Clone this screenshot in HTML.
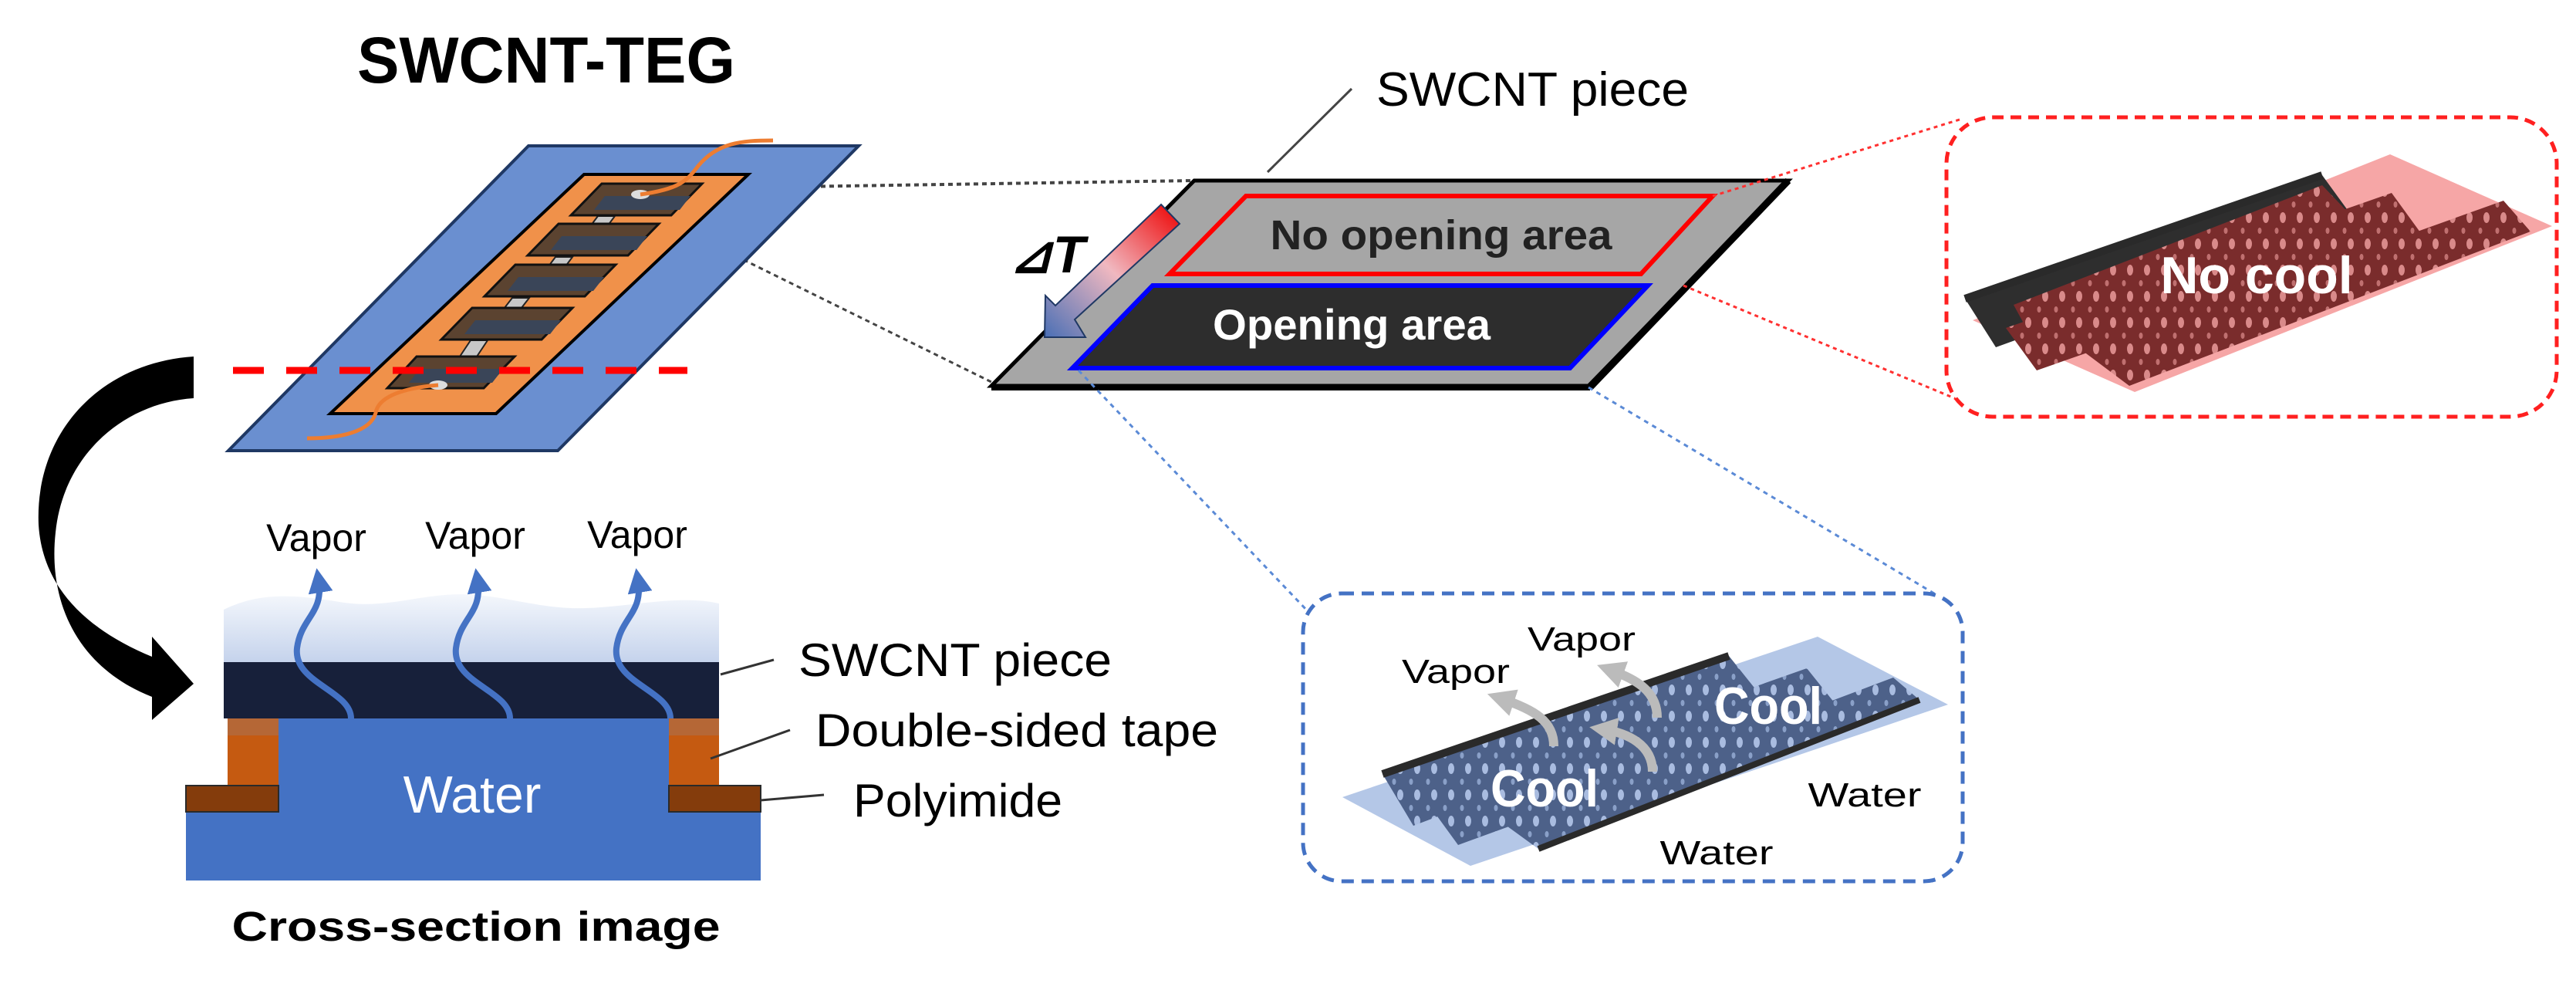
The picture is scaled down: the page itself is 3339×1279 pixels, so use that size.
<!DOCTYPE html>
<html><head><meta charset="utf-8"><style>
html,body{margin:0;padding:0;background:#fff;}
svg{display:block;}
text{font-family:"Liberation Sans",Arial,sans-serif;}
</style></head><body>
<svg width="3339" height="1279" viewBox="0 0 3339 1279" xmlns="http://www.w3.org/2000/svg">
<defs>
<linearGradient id="vap" x1="0" y1="0" x2="0" y2="1"><stop offset="0" stop-color="#f4f7fc"/><stop offset="1" stop-color="#c5d3ec"/></linearGradient>
<linearGradient id="dT" x1="1" y1="0" x2="0" y2="1"><stop offset="0" stop-color="#ee0000"/><stop offset="0.5" stop-color="#f0b8c0"/><stop offset="1" stop-color="#4a6fb5"/></linearGradient>
<pattern id="ribR" width="22" height="34" patternUnits="userSpaceOnUse">
<rect width="22" height="34" fill="#7a2c2c"/>
<ellipse cx="11" cy="10" rx="4" ry="7" fill="#d98a8a"/>
<ellipse cx="3" cy="27" rx="2.5" ry="4" fill="#c07070"/>
</pattern>
<pattern id="ribB" width="22" height="34" patternUnits="userSpaceOnUse">
<rect width="22" height="34" fill="#4d6189"/>
<ellipse cx="11" cy="10" rx="4" ry="7" fill="#a9bce0"/>
<ellipse cx="3" cy="27" rx="2.5" ry="4" fill="#8aa0c8"/>
</pattern>
<marker id="ah" viewBox="0 0 10 10" refX="5" refY="5" markerWidth="4" markerHeight="4" orient="auto"><path d="M0,0 L10,5 L0,10 Z" fill="#4472c4"/></marker>
<marker id="ahg" viewBox="0 0 10 10" refX="5" refY="5" markerWidth="3" markerHeight="3" orient="auto"><path d="M0,0 L10,5 L0,10 Z" fill="#bbbbbb"/></marker>
</defs>

<text x="708" y="107" font-size="84" font-weight="bold" text-anchor="middle" textLength="490" lengthAdjust="spacingAndGlyphs">SWCNT-TEG</text>

<line x1="899" y1="244" x2="1548" y2="234" stroke="#444" stroke-width="4" stroke-dasharray="6,5"/>
<line x1="865" y1="288" x2="1285" y2="495" stroke="#444" stroke-width="3" stroke-dasharray="6,5"/>

<polygon points="685,189 1113,189 723,584 296,584" fill="#6a8fd0" stroke="#1f3864" stroke-width="4"/>
<polygon points="757,226 970,226 643,536 428,536" fill="#f0914a" stroke="#000" stroke-width="4"/>
<g fill="#c8c8c8" stroke="#222" stroke-width="2">
<polygon points="775,280 797,280 785,296 763,296"/>
<polygon points="720,333 742,333 730,349 708,349"/>
<polygon points="664,386 686,386 672,404 650,404"/>
<polygon points="610,441 632,441 618,462 596,462"/>
</g>
<g stroke="#111" stroke-width="3" fill="#5b4330">
<polygon points="780,238 910,238 870,279 740,279"/>
<polygon points="724,290 854,290 814,331 684,331"/>
<polygon points="668,343 798,343 758,384 628,384"/>
<polygon points="612,399 742,399 702,440 572,440"/>
<polygon points="540,462 667,462 627,503 502,503"/>
</g>
<g fill="#3a4558">
<polygon points="784,254 895,254 881,272 770,272"/>
<polygon points="728,306 839,306 825,324 714,324"/>
<polygon points="672,359 783,359 769,377 658,377"/>
<polygon points="616,415 727,415 713,433 602,433"/>
<polygon points="544,478 652,478 638,496 530,496"/>
</g>
<ellipse cx="830" cy="252" rx="12" ry="6" fill="#ddd"/>
<ellipse cx="568" cy="499" rx="12" ry="6" fill="#ddd"/>
<path d="M830,252 C880,245 890,235 905,215 C930,185 960,182 1002,182" stroke="#ed7d31" stroke-width="5" fill="none"/>
<path d="M568,499 C520,503 490,515 487,535 C480,560 440,568 398,568" stroke="#ed7d31" stroke-width="5" fill="none"/>
<line x1="302" y1="480" x2="891" y2="480" stroke="#ff0000" stroke-width="9" stroke-dasharray="40,29"/>

<path d="M251,462 C130,470 45,560 50,680 C55,760 110,815 197,851 L197,825 L251,886 L197,933 L197,903 C100,865 62,780 72,690 C82,590 160,522 251,516 Z" fill="#000"/>

<path d="M290,790 C340,765 390,772 440,780 C500,790 540,770 600,770 C660,772 700,790 760,788 C820,786 880,770 932,782 L932,858 L290,858 Z" fill="url(#vap)"/>
<rect x="290" y="858" width="642" height="73" fill="#17203a"/>
<rect x="241" y="1052" width="745" height="89" fill="#4472c4"/>
<rect x="361" y="931" width="506" height="125" fill="#4472c4"/>
<rect x="295" y="931" width="66" height="87" fill="#c55a11"/>
<rect x="867" y="931" width="65" height="87" fill="#c55a11"/>
<rect x="295" y="931" width="66" height="22" fill="#b06a40" opacity="0.8"/>
<rect x="867" y="931" width="65" height="22" fill="#b06a40" opacity="0.8"/>
<rect x="241" y="1018" width="120" height="34" fill="#843c0c" stroke="#2a2a2a" stroke-width="2"/>
<rect x="867" y="1018" width="119" height="34" fill="#843c0c" stroke="#2a2a2a" stroke-width="2"/>
<text x="612" y="1053" font-size="68" fill="#fff" text-anchor="middle">Water</text>
<g stroke="#4472c4" stroke-width="8" fill="none" marker-end="url(#ah)">
<path d="M455,931 C455,895 380,885 385,840 C390,800 420,795 413,752"/>
<path d="M661,931 C661,895 586,885 591,840 C596,800 626,795 619,752"/>
<path d="M869,931 C869,895 794,885 799,840 C804,800 834,795 827,752"/>
</g>
<text x="410" y="714" font-size="50" text-anchor="middle">Vapor</text>
<text x="616" y="711" font-size="50" text-anchor="middle">Vapor</text>
<text x="826" y="710" font-size="50" text-anchor="middle">Vapor</text>
<g stroke="#333" stroke-width="3">
<line x1="934" y1="874" x2="1003" y2="855"/>
<line x1="921" y1="983" x2="1024" y2="946"/>
<line x1="986" y1="1037" x2="1068" y2="1030"/>
</g>
<text x="1035" y="876" font-size="60" textLength="406" lengthAdjust="spacingAndGlyphs">SWCNT piece</text>
<text x="1057" y="967" font-size="60" textLength="522" lengthAdjust="spacingAndGlyphs">Double-sided  tape</text>
<text x="1106" y="1058" font-size="60" textLength="271" lengthAdjust="spacingAndGlyphs">Polyimide</text>
<text x="617" y="1219" font-size="54" font-weight="bold" text-anchor="middle" textLength="633" lengthAdjust="spacingAndGlyphs">Cross-section  image</text>

<line x1="1752" y1="115" x2="1643" y2="223" stroke="#444" stroke-width="3"/>
<text x="1784" y="137" font-size="62" textLength="405" lengthAdjust="spacingAndGlyphs">SWCNT piece</text>
<polygon points="1548,234 2318,234 2059,500 1285,500" fill="#a6a6a6" stroke="#000" stroke-width="5"/>
<line x1="2318" y1="234" x2="2061" y2="502" stroke="#000" stroke-width="9"/>
<line x1="1285" y1="502" x2="2061" y2="502" stroke="#000" stroke-width="8"/>
<polygon points="1615,254 2220,254 2127,355 1516,355" fill="#a6a6a6" stroke="#ff0000" stroke-width="6"/>
<text x="1868" y="323" font-size="54" font-weight="bold" fill="#222" text-anchor="middle" textLength="443" lengthAdjust="spacingAndGlyphs">No opening area</text>
<polygon points="1494,370 2136,370 2035,477 1390,477" fill="#2d2d2d" stroke="#0000ff" stroke-width="6"/>
<text x="1752" y="440" font-size="56" font-weight="bold" fill="#fff" text-anchor="middle" textLength="360" lengthAdjust="spacingAndGlyphs">Opening area</text>
<polygon points="1505,265 1529,290 1393,414 1407,437 1354,437 1355,383 1368,396" fill="url(#dT)" stroke="#1f3864" stroke-width="2"/>
<text x="1357" y="353" font-size="68" font-weight="bold" font-style="italic" text-anchor="middle">⊿T</text>

<!-- No cool -->
<line x1="2220" y1="254" x2="2543" y2="154" stroke="#ff3030" stroke-width="3" stroke-dasharray="5,5"/>
<line x1="2182" y1="370" x2="2543" y2="520" stroke="#ff3030" stroke-width="3" stroke-dasharray="5,5"/>
<rect x="2523" y="152" width="791" height="388" rx="60" fill="#fff" stroke="#ff2020" stroke-width="5" stroke-dasharray="14,9"/>
<polygon points="3098,200 3308,293 2767,508 2557,415" fill="#f6a6a6"/>
<polygon points="2547,387 3010,227 3050,282 2587,450" fill="#2e2e2e"/>
<polygon points="2610,395 3010,240 3050,282 2640,450" fill="url(#ribR)"/>
<line x1="2547" y1="387" x2="3010" y2="227" stroke="#2a2a2a" stroke-width="10"/>
<polygon points="2600,425 3100,250 3140,305 2640,480" fill="url(#ribR)"/>
<polygon points="2700,455 3245,260 3280,300 2760,500" fill="url(#ribR)"/>
<text x="2925" y="380" font-size="68" font-weight="bold" fill="#fff" text-anchor="middle">No cool</text>

<!-- Cool -->
<line x1="1398" y1="480" x2="1696" y2="793" stroke="#5b8ad6" stroke-width="3" stroke-dasharray="6,6"/>
<line x1="2059" y1="502" x2="2512" y2="772" stroke="#5b8ad6" stroke-width="3" stroke-dasharray="6,6"/>
<rect x="1689" y="769" width="855" height="373" rx="50" fill="#fff" stroke="#4472c4" stroke-width="5" stroke-dasharray="16,10"/>
<polygon points="1740,1033 2356,825 2525,913 1906,1122" fill="#b4c7e7"/>
<polygon points="1792,1003 2241,850 2281,900 1832,1070" fill="url(#ribB)"/>
<line x1="1792" y1="1003" x2="2241" y2="850" stroke="#2a2a2a" stroke-width="10"/>
<polygon points="1850,1040 2342,866 2382,916 1890,1095" fill="url(#ribB)"/>
<polygon points="1950,1068 2454,878 2488,907 1994,1100" fill="url(#ribB)"/>
<line x1="1994" y1="1100" x2="2488" y2="907" stroke="#2a2a2a" stroke-width="8"/>
<g stroke="#bbbbbb" stroke-width="12" fill="none" marker-end="url(#ahg)">
<path d="M2014,967 C2014,935 1990,920 1945,905"/>
<path d="M2142,1000 C2142,965 2110,950 2078,945"/>
<path d="M2148,930 C2148,895 2120,880 2087,868"/>
</g>
<text x="1887" y="885" font-size="44" text-anchor="middle" textLength="140" lengthAdjust="spacingAndGlyphs">Vapor</text>
<text x="2050" y="843" font-size="44" text-anchor="middle" textLength="140" lengthAdjust="spacingAndGlyphs">Vapor</text>
<text x="2292" y="938" font-size="68" font-weight="bold" fill="#fff" text-anchor="middle" textLength="140" lengthAdjust="spacingAndGlyphs">Cool</text>
<text x="2002" y="1045" font-size="68" font-weight="bold" fill="#fff" text-anchor="middle" textLength="140" lengthAdjust="spacingAndGlyphs">Cool</text>
<text x="2417" y="1045" font-size="44" text-anchor="middle" textLength="147" lengthAdjust="spacingAndGlyphs">Water</text>
<text x="2225" y="1120" font-size="44" text-anchor="middle" textLength="147" lengthAdjust="spacingAndGlyphs">Water</text>
</svg>
</body></html>
